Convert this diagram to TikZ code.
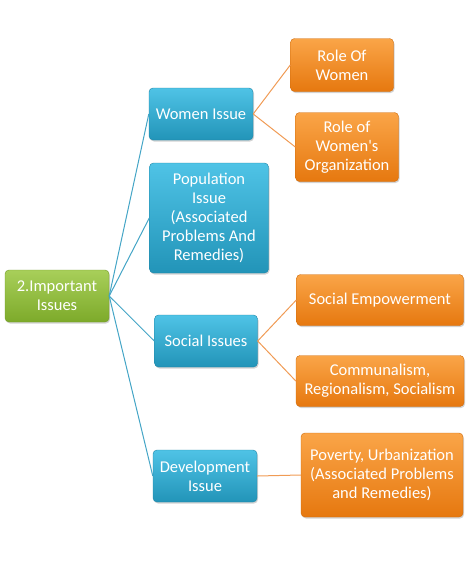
\documentclass[tikz,border=0pt]{standalone}
\usepackage{fontspec}
\setmainfont{Carlito}
\usetikzlibrary{shadows}
\definecolor{bluetop}{HTML}{4FC3E6}
\definecolor{bluebot}{HTML}{2294B8}
\definecolor{orgtop}{HTML}{FAA548}
\definecolor{orgbot}{HTML}{E6780F}
\definecolor{grntop}{HTML}{A8CF5A}
\definecolor{grnbot}{HTML}{7DAA2A}
\definecolor{tealline}{HTML}{44A5C6}
\definecolor{orgline}{HTML}{F09B55}
\tikzset{
  box/.style={rectangle, rounded corners=4pt, inner sep=2pt, align=center,
    text=white, font=\fontsize{16.5}{19}\selectfont,
    drop shadow={shadow xshift=1pt, shadow yshift=-1.5pt, opacity=0.35}},
  bluebox/.style={box, top color=bluetop, bottom color=bluebot, draw=bluebot!90!black, line width=0.4pt},
  orgbox/.style={box, top color=orgtop, bottom color=orgbot, draw=orgbot!90!black, line width=0.4pt},
  grnbox/.style={box, top color=grntop, bottom color=grnbot, draw=grnbot!90!black, line width=0.4pt},
  tline/.style={draw=tealline, line width=1pt},
  oline/.style={draw=orgline, line width=1pt}
}
\begin{document}
\begin{tikzpicture}[x=1pt,y=-1pt]
\useasboundingbox (0,0) rectangle (474,570);
\node[grnbox, minimum width=104pt, minimum height=52pt] (root) at (57,296) {2.Important\\Issues};
\node[bluebox, minimum width=104pt, minimum height=52pt] (women) at (201,114) {Women Issue};
\node[bluebox, minimum width=119pt, minimum height=110pt] (pop) at (209,218) {Population\\Issue\\(Associated\\Problems And\\Remedies)};
\node[bluebox, minimum width=103pt, minimum height=52pt] (social) at (206,341) {Social Issues};
\node[bluebox, minimum width=104pt, minimum height=52pt] (dev) at (205,476) {Development\\Issue};
\node[orgbox, minimum width=103pt, minimum height=53pt] (rw) at (342,65) {Role Of\\Women};
\node[orgbox, minimum width=103pt, minimum height=69pt] (rwo) at (347,147) {Role of\\Women\textquotesingle s\\Organization};
\node[orgbox, minimum width=167pt, minimum height=51pt] (se) at (380,300) {Social Empowerment};
\node[orgbox, minimum width=168pt, minimum height=51pt] (comm) at (380,381) {Communalism,\\Regionalism, Socialism};
\node[orgbox, minimum width=162pt, minimum height=84pt] (pov) at (382,475) {Poverty, Urbanization\\(Associated Problems\\and Remedies)};
\draw[tline] (root.east) -- (women.west);
\draw[tline] (root.east) -- (pop.west);
\draw[tline] (root.east) -- (social.west);
\draw[tline] (root.east) -- (dev.west);
\draw[oline] (women.east) -- (rw.west);
\draw[oline] (women.east) -- (rwo.west);
\draw[oline] (social.east) -- (se.west);
\draw[oline] (social.east) -- (comm.west);
\draw[oline] (dev.east) -- (pov.west);
\end{tikzpicture}
\end{document}
